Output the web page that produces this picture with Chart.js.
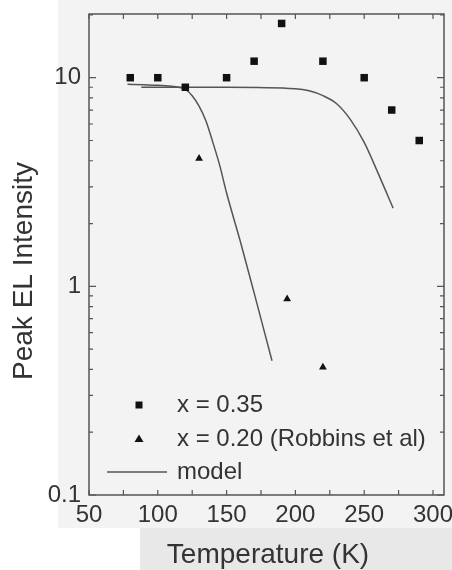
<!DOCTYPE html>
<html>
<head>
<meta charset="utf-8">
<script src="https://cdn.jsdelivr.net/npm/chart.js@4/dist/chart.umd.min.js"></script>
<style>
html,body{margin:0;padding:0;background:#fff;}
#wrap{width:452px;height:570px;position:relative;}
</style>
</head>
<body>
<div id="wrap"><canvas id="c" width="452" height="570"></canvas></div>
<script>
// ---- data ----
const tempsX035 = [80, 100, 120, 150, 170, 190, 220, 250, 270, 290];
const peakX035  = [10, 10, 9, 10, 12, 18.2, 12, 10, 7, 5];

const tempsX020 = [130, 194, 220];
const peakX020  = [4.1, 0.87, 0.41];

const modelA_T = [78, 90, 100, 110, 115, 120, 125, 130, 135, 140, 145, 150, 160, 170, 183];
const modelA_V = [9.3, 9.25, 9.2, 9.1, 9.0, 8.8, 8.2, 7.3, 6.2, 4.9, 3.8, 2.8, 1.64, 0.93, 0.44];

const modelB_T = [88, 100, 150, 200, 210, 220, 230, 240, 250, 260, 271];
const modelB_V = [9.0, 9.0, 9.0, 8.85, 8.65, 8.2, 7.5, 6.3, 4.9, 3.5, 2.37];

const xTickValues = [50, 100, 150, 200, 250, 300];
const xMinorValues = [75, 125, 175, 225, 275];
const yTickValues = [0.1, 1, 10];
const yTickLabels = ['0.1', '1', '10'];
const legendLabels = ['x = 0.35', 'x = 0.20 (Robbins et al)', 'model'];
const xTitle = 'Temperature (K)';
const yTitle = 'Peak EL Intensity';

const zip = (xs, ys) => xs.map((x, i) => ({x: x, y: ys[i]}));
const FONT = '"Liberation Sans", Arial, sans-serif';
const AXIS = '#555';

const bgPlugin = {
  id: 'bg',
  beforeDraw(chart) {
    const ctx = chart.ctx;
    ctx.save();
    ctx.fillStyle = '#fff';
    ctx.fillRect(0, 0, 452, 570);
    ctx.fillStyle = '#f3f3f3';
    ctx.fillRect(58, 0, 394, 528);
    ctx.fillStyle = '#e8e8e8';
    ctx.fillRect(140, 528, 312, 42);
    ctx.restore();
  }
};

const framePlugin = {
  id: 'frame',
  afterDatasetsDraw(chart) {
    const ctx = chart.ctx;
    const a = chart.chartArea;
    const xs = chart.scales.x, ys = chart.scales.y;
    ctx.save();
    ctx.strokeStyle = AXIS;
    ctx.lineWidth = 1.5;
    ctx.strokeRect(a.left, a.top, a.right - a.left, a.bottom - a.top);
    ctx.lineWidth = 1.2;
    ctx.beginPath();
    const xt = xTickValues.concat(xMinorValues);
    xt.forEach(v => {
      const px = xs.getPixelForValue(v);
      ctx.moveTo(px, a.bottom); ctx.lineTo(px, a.bottom - 5);
      ctx.moveTo(px, a.top); ctx.lineTo(px, a.top + 5);
    });
    for (let dec = -1; dec <= 1; dec++) {
      for (let m = 1; m <= 9; m++) {
        const v = m * Math.pow(10, dec);
        if (v < ys.min - 1e-9 || v > ys.max + 1e-9) continue;
        const py = ys.getPixelForValue(v);
        const len = m === 1 ? 7 : 4;
        ctx.moveTo(a.left, py); ctx.lineTo(a.left + len, py);
        ctx.moveTo(a.right, py); ctx.lineTo(a.right - len, py);
      }
    }
    ctx.stroke();

    // legend
    ctx.fillStyle = '#111';
    const lx = 139;
    const rows = [405, 439, 472];
    ctx.fillRect(lx - 3.5, rows[0] - 3.5, 7, 7);
    ctx.beginPath();
    ctx.moveTo(lx, rows[1] - 4.5);
    ctx.lineTo(lx + 4.5, rows[1] + 3);
    ctx.lineTo(lx - 4.5, rows[1] + 3);
    ctx.closePath();
    ctx.fill();
    ctx.strokeStyle = '#555';
    ctx.lineWidth = 1.5;
    ctx.beginPath();
    ctx.moveTo(107, rows[2]); ctx.lineTo(167, rows[2]);
    ctx.stroke();
    ctx.fillStyle = '#333';
    ctx.font = '24px ' + FONT;
    ctx.textBaseline = 'middle';
    ctx.textAlign = 'left';
    legendLabels.forEach((t, i) => ctx.fillText(t, 177, rows[i]));

    // axis titles
    ctx.font = '28px ' + FONT;
    ctx.textAlign = 'center';
    ctx.fillStyle = '#333';
    ctx.fillText(xTitle, 268, 555);
    ctx.translate(24, 271);
    ctx.rotate(-Math.PI / 2);
    ctx.fillText(yTitle, 0, 0);
    ctx.restore();
  }
};

new Chart(document.getElementById('c'), {
  type: 'scatter',
  data: {
    datasets: [
      {
        label: legendLabels[0],
        data: zip(tempsX035, peakX035),
        pointStyle: 'rect',
        pointRadius: 5.3,
        backgroundColor: '#111',
        borderColor: '#111',
        borderWidth: 0,
        showLine: false
      },
      {
        label: legendLabels[1],
        data: zip(tempsX020, peakX020),
        pointStyle: 'triangle',
        pointRadius: 4.5,
        backgroundColor: '#111',
        borderColor: '#111',
        borderWidth: 0,
        showLine: false
      },
      {
        label: legendLabels[2],
        data: zip(modelA_T, modelA_V),
        showLine: true,
        pointRadius: 0,
        borderColor: '#555',
        borderWidth: 1.5,
        cubicInterpolationMode: 'monotone'
      },
      {
        label: legendLabels[2] + ' 2',
        data: zip(modelB_T, modelB_V),
        showLine: true,
        pointRadius: 0,
        borderColor: '#555',
        borderWidth: 1.5,
        cubicInterpolationMode: 'monotone'
      }
    ]
  },
  options: {
    responsive: false,
    animation: false,
    devicePixelRatio: 1,
    layout: {padding: {top: 14, right: 8, left: 0, bottom: 0}},
    plugins: {legend: {display: false}, tooltip: {enabled: false}},
    scales: {
      x: {
        type: 'linear',
        min: 50,
        max: 308,
        grid: {display: false, drawTicks: false},
        border: {display: false},
        afterBuildTicks(scale) { scale.ticks = xTickValues.map(v => ({value: v})); },
        afterFit(scale) { scale.height = 75; scale.paddingLeft = 0; scale.paddingRight = 0; },
        ticks: {
          autoSkip: false,
          maxRotation: 0,
          padding: 6,
          color: '#333',
          font: {family: FONT, size: 24},
          callback: v => String(v)
        }
      },
      y: {
        type: 'logarithmic',
        min: 0.1,
        max: 20.2,
        grid: {display: false, drawTicks: false},
        border: {display: false},
        afterBuildTicks(scale) { scale.ticks = yTickValues.map(v => ({value: v})); },
        afterFit(scale) { scale.width = 89; scale.paddingTop = 0; scale.paddingBottom = 0; },
        ticks: {
          autoSkip: false,
          padding: 8,
          color: '#333',
          font: {family: FONT, size: 24},
          callback: (v) => {
            const i = yTickValues.findIndex(t => Math.abs(t - v) < 1e-9);
            return i >= 0 ? yTickLabels[i] : '';
          }
        }
      }
    }
  },
  plugins: [bgPlugin, framePlugin]
});
</script>
</body>
</html>
